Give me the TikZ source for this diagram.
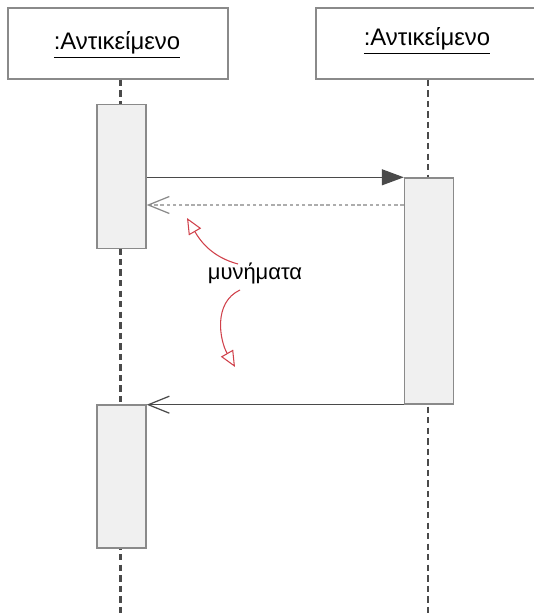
\documentclass[tikz,border=0pt]{standalone}
\usepackage{fontspec}
\setmainfont{Liberation Sans}
\usetikzlibrary{arrows.meta}

\definecolor{boxline}{HTML}{8A8A8A}
\definecolor{boxfill}{HTML}{F0F0F0}
\definecolor{lifegray}{HTML}{4A4A4A}
\definecolor{notered}{HTML}{D0404A}

\tikzset{
    objbox/.style={draw=boxline, fill=white, line width=0.8pt, minimum height=1.42cm, inner sep=0pt},
    actbox/.style={draw=boxline, fill=boxfill, line width=0.8pt, minimum width=0.98cm, inner sep=0pt},
    lifeline/.style={draw=lifegray, line width=1.3pt, dash pattern=on 3.6pt off 2.4pt},
    msg/.style={draw=lifegray, line width=0.7pt},
    retmsg/.style={draw=boxline!70, line width=1pt, dash pattern=on 2pt off 1.5pt},
    noteline/.style={draw=notered, line width=0.6pt}
}

\begin{document}
\begin{tikzpicture}
    \useasboundingbox (0, 0) rectangle (10.68, 12.26);

    % objects
    \node[objbox, minimum width=4.40cm] (objA) at (2.36, 11.39) {};
    \node[objbox, minimum width=4.48cm] (objB) at (8.56, 11.39) {};
    \node[font=\fontsize{13.6}{16}\selectfont] (nameA) at (2.34, 11.36) {\underline{:Αντικείμενο}};
    \node[font=\fontsize{13.6}{16}\selectfont] (nameB) at (8.54, 11.44) {\underline{:Αντικείμενο}};

    % lifelines
    \coordinate (endA) at (2.41, 0);
    \coordinate (endB) at (8.56, 0);
    \draw[lifeline] (objA.south -| endA) -- (endA);
    \draw[lifeline] (objB.south) -- (endB);

    % activations
    \node[actbox, minimum height=2.88cm] (actA1) at (2.43, 8.73) {};
    \node[actbox, minimum height=2.86cm] (actA2) at (2.43, 2.73) {};
    \node[actbox, minimum height=4.52cm] (actB) at (8.58, 6.44) {};

    % messages
    \draw[msg, -{Triangle[length=0.44cm, width=0.32cm, fill=lifegray]}] (actA1.east |- actB.north) -- (actB.north west);
    \draw[retmsg, -{Straight Barb[length=0.42cm, width=0.34cm, line width=0.7pt, boxline]}] (actB.west |- 0, 8.16) -- (actA1.east |- 0, 8.16);
    \draw[msg, -{Straight Barb[length=0.42cm, width=0.34cm, line width=0.7pt]}] (actB.south west) -- (actA1.east |- actB.south);

    % note
    \node[font=\fontsize{12.5}{15}\selectfont] (note) at (5.10, 6.78) {μυνήματα};
    \draw[noteline, -{Triangle[open, length=0.32cm, width=0.28cm]}] (4.76, 6.98) to[out=165, in=-60] (3.74, 7.90);
    \draw[noteline, -{Triangle[open, length=0.32cm, width=0.28cm]}] (4.80, 6.46) to[out=205, in=120] (4.70, 4.92);
\end{tikzpicture}
\end{document}
